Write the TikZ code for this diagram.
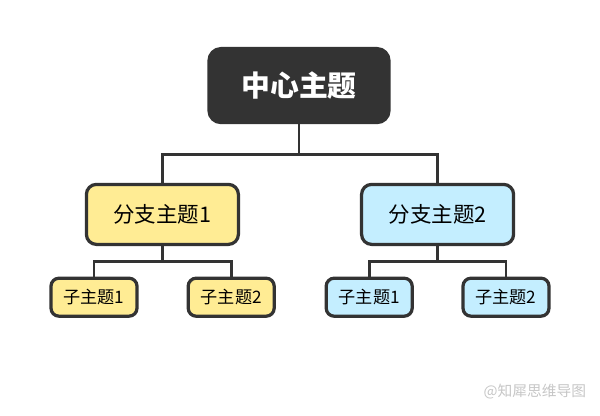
\documentclass[tikz,border=0pt]{standalone}
\usepackage{fontspec}
\setmainfont{Noto Sans CJK SC}
\definecolor{darkbox}{HTML}{333333}
\definecolor{yellowbox}{HTML}{FFEC94}
\definecolor{bluebox}{HTML}{C4EEFF}
\tikzset{
  topic/.style={draw=darkbox, line width=2.3pt, rounded corners=0.25cm, align=center, inner sep=0pt},
  central/.style={topic, fill=darkbox, text=white, minimum width=4.5cm, minimum height=1.85cm, rounded corners=0.3cm, font=\fontsize{20.5pt}{24pt}\selectfont\bfseries},
  branch/.style={topic, minimum width=3.8cm, minimum height=1.5cm, font=\fontsize{15.3pt}{18pt}\selectfont},
  leaf/.style={topic, minimum width=2.15cm, minimum height=0.95cm, rounded corners=0.2cm, font=\fontsize{12.2pt}{14pt}\selectfont},
  conn/.style={draw=darkbox, line width=2.1pt}
}
\begin{document}
\begin{tikzpicture}
\useasboundingbox (0,0) rectangle (15,-10.4);
% central topic
\node[central] (center) at (7.475,-2.14) {中心主题};
% branches
\node[branch, fill=yellowbox] (branchA) at (4.06,-5.36) {分支主题1};
\node[branch, fill=bluebox] (branchB) at (10.94,-5.36) {分支主题2};
% leaves
\node[leaf, fill=yellowbox] (leafA1) at (2.35,-7.43) {子主题1};
\node[leaf, fill=yellowbox] (leafA2) at (5.78,-7.43) {子主题2};
\node[leaf, fill=bluebox] (leafB1) at (9.23,-7.43) {子主题1};
\node[leaf, fill=bluebox] (leafB2) at (12.65,-7.43) {子主题2};
% connectors
\draw[conn] (center.south) -- ++(0,-0.75) coordinate (cj) -| (branchA.north);
\draw[conn] (cj) -| (branchB.north);
\draw[conn] (branchA.south) -- ++(0,-0.38) coordinate (aj) -| (leafA1.north);
\draw[conn] (aj) -| (leafA2.north);
\draw[conn] (branchB.south) -- ++(0,-0.38) coordinate (bj) -| (leafB1.north);
\draw[conn] (bj) -| (leafB2.north);
% watermark
\node[text=gray!45, font=\fontsize{10.5pt}{12pt}\selectfont, anchor=east] (mark) at (14.78,-9.8) {@知犀思维导图};
\end{tikzpicture}
\end{document}
